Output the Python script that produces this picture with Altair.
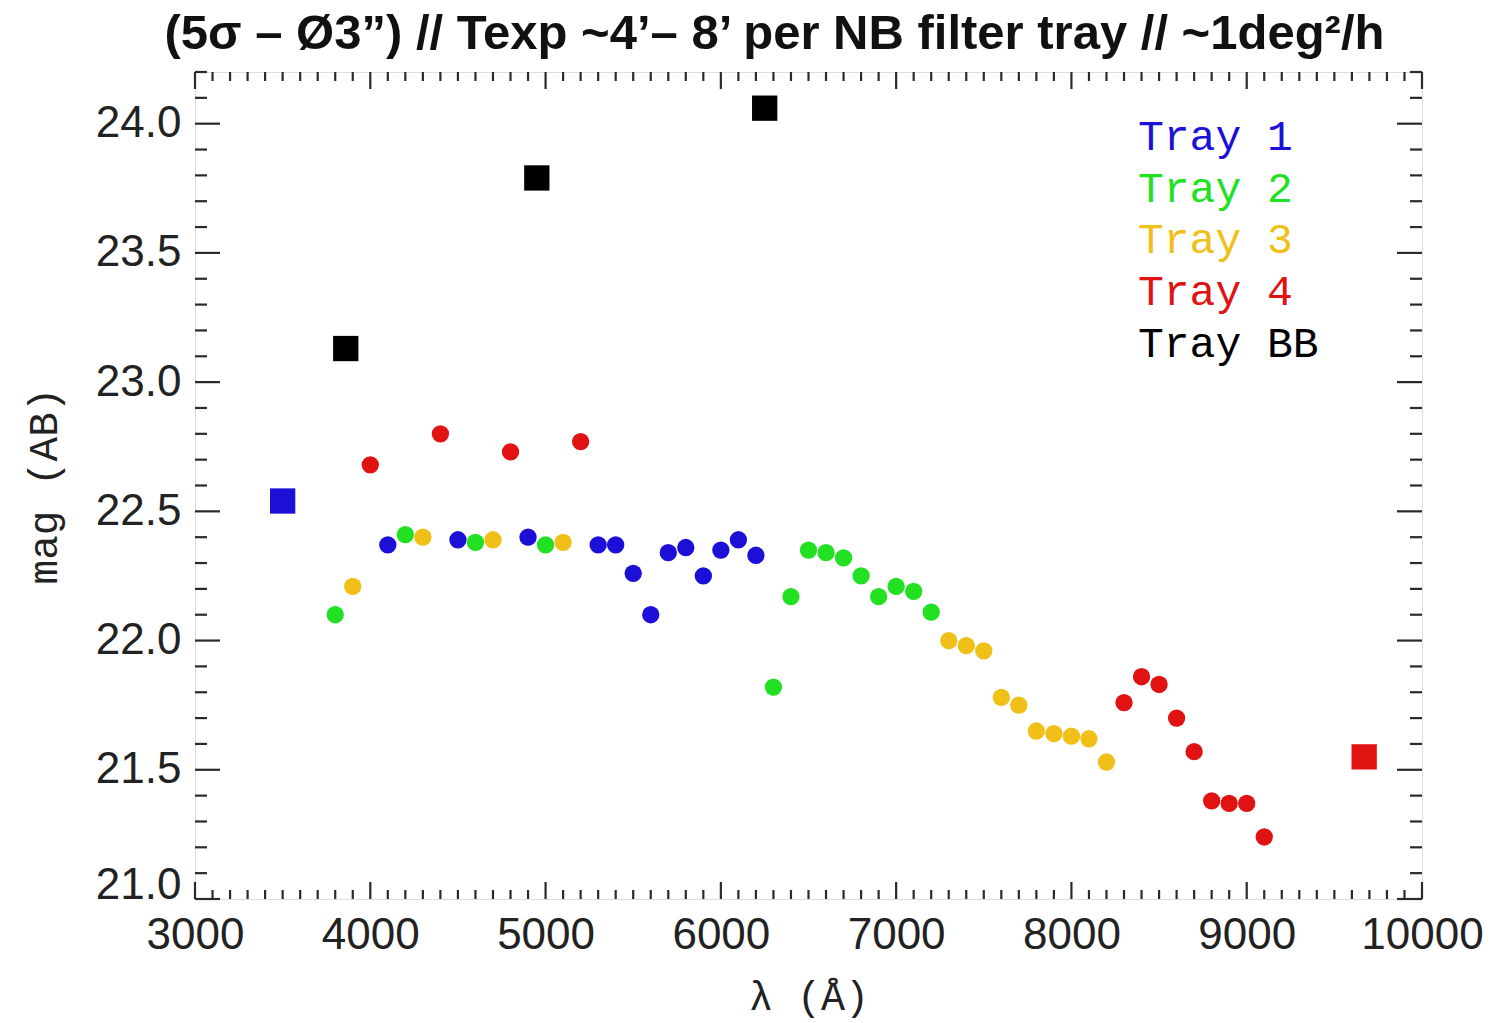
import altair as alt
import pandas as pd

# Tray names and colours
tray_names = ["Tray 1", "Tray 2", "Tray 3", "Tray 4", "Tray BB"]
tray_colors = ["#1c10d8", "#22e022", "#f0c018", "#e01212", "#000000"]

# Narrow-band filters (circles): wavelength [A] and 5-sigma depth [AB mag]
t1_lam = [4100, 4500, 4900, 5300, 5400, 5500, 5600, 5700, 5800, 5900, 6000, 6100, 6200]
t1_mag = [22.37, 22.39, 22.40, 22.37, 22.37, 22.26, 22.10, 22.34, 22.36, 22.25, 22.35, 22.39, 22.33]

t2_lam = [3800, 4200, 4600, 5000, 6300, 6400, 6500, 6600, 6700, 6800, 6900, 7000, 7100, 7200]
t2_mag = [22.10, 22.41, 22.38, 22.37, 21.82, 22.17, 22.35, 22.34, 22.32, 22.25, 22.17, 22.21, 22.19, 22.11]

t3_lam = [3900, 4300, 4700, 5100, 7300, 7400, 7500, 7600, 7700, 7800, 7900, 8000, 8100, 8200]
t3_mag = [22.21, 22.40, 22.39, 22.38, 22.00, 21.98, 21.96, 21.78, 21.75, 21.65, 21.64, 21.63, 21.62, 21.53]

t4_lam = [4000, 4400, 4800, 5200, 8300, 8400, 8500, 8600, 8700, 8800, 8900, 9000, 9100]
t4_mag = [22.68, 22.80, 22.73, 22.77, 21.76, 21.86, 21.83, 21.70, 21.57, 21.38, 21.37, 21.37, 21.24]

# Broad-band filters (squares)
sq_lam = [3500, 3860, 4950, 6250, 9670]
sq_mag = [22.54, 23.13, 23.79, 24.06, 21.55]
sq_tray = ["Tray 1", "Tray BB", "Tray BB", "Tray BB", "Tray 4"]

# Axis ticks
x_major = list(range(3000, 10001, 1000))
x_minor = [v for v in range(3000, 10001, 100) if v % 1000 != 0]
y_major = [21.0, 21.5, 22.0, 22.5, 23.0, 23.5, 24.0]
y_minor = [round(21.0 + 0.1 * i, 1) for i in range(33) if i % 5 != 0]

W, H = 1227, 827
FRAME = "#2a2a2a"

circles = pd.DataFrame({
    "lam": t1_lam + t2_lam + t3_lam + t4_lam,
    "mag": t1_mag + t2_mag + t3_mag + t4_mag,
    "tray": ["Tray 1"] * len(t1_lam) + ["Tray 2"] * len(t2_lam)
            + ["Tray 3"] * len(t3_lam) + ["Tray 4"] * len(t4_lam),
})
squares = pd.DataFrame({"lam": sq_lam, "mag": sq_mag, "tray": sq_tray})

xs = alt.Scale(domain=[3000, 10000], nice=False, zero=False)
ys = alt.Scale(domain=[21.0, 24.2], nice=False, zero=False)
cs = alt.Scale(domain=tray_names, range=tray_colors)

x_axis = alt.Axis(
    values=x_major, format="d", ticks=False, domain=False, grid=False,
    labelFont="Liberation Sans", labelFontSize=44, labelColor="#222222",
    labelPadding=14, labelFlush=False, labelOverlap=False,
    title="λ (Å)", titleFont="Liberation Mono",
    titleFontSize=40, titleFontWeight="normal", titleColor="#222222",
    titlePadding=20,
)
y_axis = alt.Axis(
    values=y_major, format=".1f", ticks=False, domain=False, grid=False,
    labelFont="Liberation Sans", labelFontSize=44, labelColor="#222222",
    labelPadding=14, labelFlush=True, labelFlushOffset=8, labelOverlap=False,
    title="mag (AB)",
    titleFont="Liberation Mono", titleFontSize=41, titleFontWeight="normal",
    titleColor="#222222", titlePadding=30,
)

pts = alt.Chart(circles).mark_point(filled=True, opacity=1, size=300, shape="circle").encode(
    x=alt.X("lam:Q", scale=xs, axis=x_axis),
    y=alt.Y("mag:Q", scale=ys, axis=y_axis),
    color=alt.Color("tray:N", scale=cs, legend=None),
)
sqs = alt.Chart(squares).mark_point(filled=True, opacity=1, size=640, shape="square").encode(
    x=alt.X("lam:Q", scale=xs),
    y=alt.Y("mag:Q", scale=ys),
    color=alt.Color("tray:N", scale=cs, legend=None),
)


def yticks(vals, length):
    df = pd.DataFrame({"v": vals})
    left = alt.Chart(df).mark_rule(color=FRAME, strokeWidth=2.2).encode(
        y=alt.Y("v:Q", scale=ys), x=alt.value(0), x2=alt.value(length))
    right = alt.Chart(df).mark_rule(color=FRAME, strokeWidth=2.2).encode(
        y=alt.Y("v:Q", scale=ys), x=alt.value(W), x2=alt.value(W - length))
    return [left, right]


def xticks(vals, length):
    df = pd.DataFrame({"v": vals})
    bottom = alt.Chart(df).mark_rule(color=FRAME, strokeWidth=2.2).encode(
        x=alt.X("v:Q", scale=xs), y=alt.value(H), y2=alt.value(H - length))
    top = alt.Chart(df).mark_rule(color=FRAME, strokeWidth=2.2).encode(
        x=alt.X("v:Q", scale=xs), y=alt.value(0), y2=alt.value(length))
    return [bottom, top]


tick_layers = yticks(y_major, 25) + yticks(y_minor, 12) + xticks(x_major, 17) + xticks(x_minor, 9)

# Legend: coloured tray labels in the upper right corner
legend_layers = []
for i, name in enumerate(tray_names):
    legend_layers.append(
        alt.Chart(pd.DataFrame({"tray": [name]})).mark_text(
            align="left", baseline="alphabetic", font="Liberation Mono", fontSize=43,
        ).encode(
            x=alt.value(943), y=alt.value(78 + 51.7 * i), text="tray:N",
            color=alt.Color("tray:N", scale=cs, legend=None),
        )
    )

chart = alt.layer(pts, sqs, *tick_layers, *legend_layers).properties(
    width=W, height=H,
    title=alt.TitleParams(
        "(5σ – Ø3”) // Texp ~4’– 8’ per NB filter tray // ~1deg²/h",
        font="Liberation Sans", fontSize=49, fontWeight="bold", color="#111111",
        anchor="middle", dx=-34, offset=12,
    ),
    autosize=alt.AutoSizeParams(type="none"),
    padding={"left": 195, "top": 72, "right": 71, "bottom": 124},
).configure_view(stroke=FRAME, strokeWidth=2.6).configure(background="white")

chart.save("out.html", embed_options={"renderer": "svg", "actions": False})
